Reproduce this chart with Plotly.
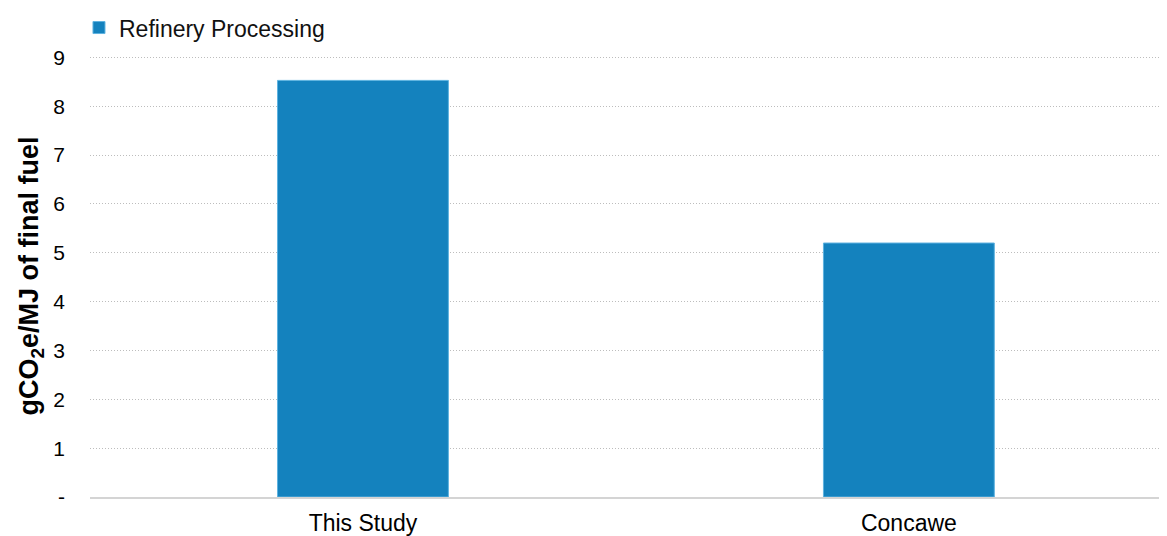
import plotly.graph_objects as go

FONT = "Liberation Sans, Arial, sans-serif"

# Data
categories = ["This Study", "Concawe"]
refinery_processing = [8.53, 5.2]
tick_values = [0, 1, 2, 3, 4, 5, 6, 7, 8, 9]
tick_labels = ["-", "1", "2", "3", "4", "5", "6", "7", "8", "9"]

BAR_COLOR = "#1482BE"
GRID_COLOR = "#BDBDBD"

fig = go.Figure(
    data=go.Bar(
        x=categories,
        y=refinery_processing,
        name="Refinery Processing",
        width=0.313,
        marker=dict(color=BAR_COLOR, line=dict(color="#5FB3E0", width=1)),
        showlegend=True,
    )
)

# the page body adds an 8px offset, so the figure is a bit smaller than the window
fig.update_layout(
    width=1159,
    height=528,
    paper_bgcolor="white",
    plot_bgcolor="white",
    font=dict(family=FONT, color="#000000", size=22),
    margin=dict(l=82, r=7, t=46.6, b=39, autoexpand=False),
    legend=dict(
        orientation="h",
        x=-0.0103,
        y=1.062,
        xanchor="left",
        yanchor="middle",
        font=dict(size=23, color="#111111"),
        itemwidth=30,
        bgcolor="rgba(0,0,0,0)",
    ),
    xaxis=dict(
        range=[-0.5, 1.46],
        showgrid=False,
        showline=True,
        linecolor="#D4D4D4",
        linewidth=2,
        ticks="",
        tickfont=dict(size=23),
        ticklabelstandoff=4,
        automargin=False,
    ),
    yaxis=dict(
        range=[0, 9.05],
        tickvals=tick_values,
        ticktext=tick_labels,
        showgrid=True,
        gridcolor=GRID_COLOR,
        griddash="1px,2px",
        gridwidth=1,
        zeroline=False,
        showline=False,
        ticks="",
        tickfont=dict(size=21),
        ticklabelstandoff=24,
        automargin=False,
        title=dict(
            text="<b>gCO<sub>2</sub>e/MJ of final fuel</b>",
            font=dict(size=27),
            standoff=6,
        ),
    ),
)

fig.write_html("out.html")
